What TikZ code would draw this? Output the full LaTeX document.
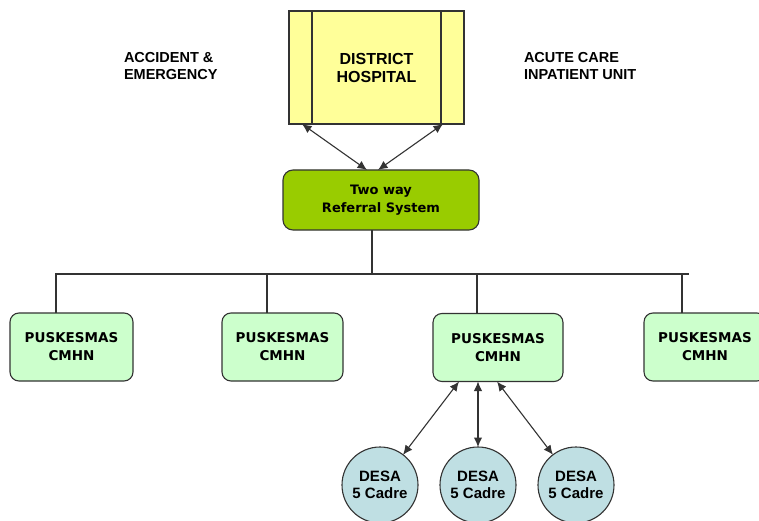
\documentclass[tikz,border=0pt]{standalone}
\usepackage{fontspec}
\usetikzlibrary{arrows.meta}
\newfontfamily\dvfont{DejaVu Sans}
\newfontfamily\arfont{Liberation Sans}
\definecolor{hospyellow}{HTML}{FFFF99}
\definecolor{refgreen}{HTML}{99CC00}
\definecolor{puskgreen}{HTML}{CCFFCC}
\definecolor{desablue}{HTML}{BFDFE3}
\definecolor{linegray}{HTML}{333333}
\begin{document}
\begin{tikzpicture}[x=1pt,y=-1pt,
  every node/.style={inner sep=0pt, outer sep=0pt},
  hospbox/.style={draw=linegray, line width=1.1pt, fill=hospyellow, minimum width=175pt, minimum height=113pt, align=center,
    font=\arfont\bfseries\fontsize{16}{18}\selectfont},
  refbox/.style={draw=linegray, line width=1.1pt, fill=refgreen, rounded corners=10pt, minimum width=196pt, minimum height=60pt, align=center,
    font=\dvfont\bfseries\fontsize{13}{18}\selectfont},
  puskbox/.style={draw=linegray, line width=1.1pt, fill=puskgreen, rounded corners=9pt, minimum height=68pt, align=center,
    font=\dvfont\bfseries\fontsize{13.5}{18}\selectfont},
  desacirc/.style={draw=linegray, line width=1.1pt, fill=desablue, circle, minimum size=76pt, align=center,
    font=\arfont\bfseries\fontsize{15}{17}\selectfont},
  sidelabel/.style={align=left, anchor=west, font=\arfont\bfseries\fontsize{14.5}{16.5}\selectfont},
  conn/.style={draw=linegray, line width=1.1pt},
  biarrow/.style={conn, {Latex[length=9.5pt,width=8.5pt]}-{Latex[length=9.5pt,width=8.5pt]}}
]
\useasboundingbox (0,0) rectangle (759,521);
\fill[white] (0,0) rectangle (759,521);

% top level
\node[hospbox] (hosp) at (376.5,67.5) {DISTRICT\\HOSPITAL};
\draw[conn] ([xshift=23pt]hosp.north west) -- ([xshift=23pt]hosp.south west);
\draw[conn] ([xshift=-23pt]hosp.north east) -- ([xshift=-23pt]hosp.south east);
\node[sidelabel] (ae) at (124,66) {ACCIDENT \&\\EMERGENCY};
\node[sidelabel] (acu) at (524,66) {ACUTE CARE\\INPATIENT UNIT};

\node[refbox] (ref) at (381,200) {Two way\\Referral System};
\draw[biarrow] ([xshift=13pt]hosp.south west) -- ([xshift=-14pt]ref.north);
\draw[biarrow] ([xshift=-21pt]hosp.south east) -- ([xshift=-3pt]ref.north);

% bus
\coordinate (busL) at (55,274);
\coordinate (busR) at (689,274);
\draw[conn] (busL) -- (busR);
\draw[conn] ([xshift=-9pt]ref.south) -- ([xshift=-9pt]ref.south |- busL);

\node[puskbox, minimum width=123pt] (p1) at (71.5,347) {PUSKESMAS\\CMHN};
\node[puskbox, minimum width=121pt] (p2) at (282.5,347) {PUSKESMAS\\CMHN};
\node[puskbox, minimum width=130pt] (p3) at (498,347.5) {PUSKESMAS\\CMHN};
\node[puskbox, minimum width=122pt] (p4) at (705,347) {PUSKESMAS\\CMHN};

\draw[conn] ([xshift=-15.5pt]p1.north) -- ([xshift=-15.5pt]p1.north |- busL);
\draw[conn] ([xshift=-15.5pt]p2.north) -- ([xshift=-15.5pt]p2.north |- busL);
\draw[conn] ([xshift=-21pt]p3.north) -- ([xshift=-21pt]p3.north |- busL);
\draw[conn] ([xshift=-23pt]p4.north) -- ([xshift=-23pt]p4.north |- busL);

% desa
\node[desacirc] (d1) at (380,485) {DESA\\5 Cadre};
\node[desacirc] (d2) at (478,485) {DESA\\5 Cadre};
\node[desacirc] (d3) at (576,485) {DESA\\5 Cadre};

\draw[biarrow] (d1) -- ([xshift=-39pt]p3.south);
\draw[biarrow] (d2.north) -- ([xshift=-20pt]p3.south);
\draw[biarrow] (d3) -- ([xshift=-1pt]p3.south);
\end{tikzpicture}
\end{document}
